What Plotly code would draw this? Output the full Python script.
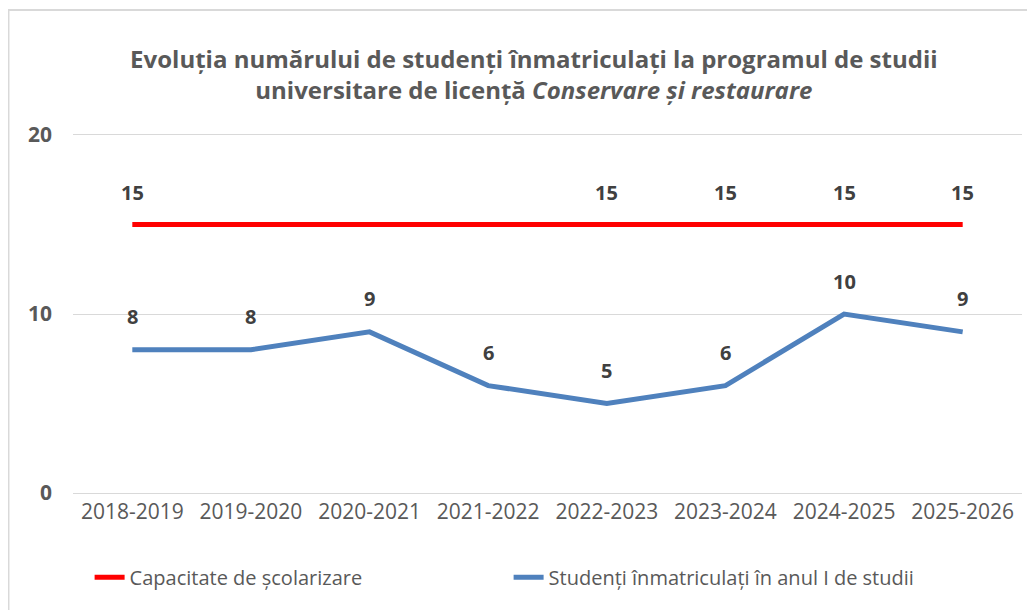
import plotly.graph_objects as go

years = ["2018-2019", "2019-2020", "2020-2021", "2021-2022",
         "2022-2023", "2023-2024", "2024-2025", "2025-2026"]
capacity = [15, 15, 15, 15, 15, 15, 15, 15]
enrolled = [8, 8, 9, 6, 5, 6, 10, 9]
# capacity labels shown only for some years (as in the original)
capacityLabelShown = [True, False, False, False, True, True, True, True]

font = "Open Sans"
grey = "#595959"
dark = "#404040"

fig = go.Figure()
fig.add_trace(go.Scatter(
    x=years, y=capacity, mode="lines",
    name="Capacitate de școlarizare",
    line=dict(color="#FF0000", width=5)
))
fig.add_trace(go.Scatter(
    x=years, y=enrolled, mode="lines",
    name="Studenți înmatriculați în anul I de studii",
    line=dict(color="#4F81BD", width=5)
))

# data labels
for yr, val, show in zip(years, capacity, capacityLabelShown):
    if show:
        fig.add_annotation(x=yr, y=val, text="<b>%d</b>" % val, showarrow=False,
                           yshift=32, font=dict(family=font, size=20, color=dark))
for yr, val in zip(years, enrolled):
    fig.add_annotation(x=yr, y=val, text="<b>%d</b>" % val, showarrow=False,
                       yshift=33, font=dict(family=font, size=20, color=dark))

# chart border
fig.add_shape(type="rect", xref="paper", yref="paper",
              x0=-0.068, x1=1.05, y0=-0.5, y1=1.349,
              line=dict(color="#d9d9d9", width=2), layer="below")

fig.update_layout(
    width=1027, height=602,
    margin=dict(l=65, r=13, t=127, b=117),
    paper_bgcolor="white", plot_bgcolor="white",
    title=dict(
        text="<b>Evoluția numărului de studenți înmatriculați la programul de studii<br>"
             "universitare de licență <i>Conservare și restaurare</i></b>",
        x=0.512, xanchor="center", y=0.901, yanchor="middle",
        font=dict(family=font, size=24, color=grey)
    ),
    xaxis=dict(
        range=[-0.5, 7.5], showgrid=False, ticks="",
        showline=True, mirror=True, linecolor="#d9d9d9", linewidth=1,
        tickfont=dict(family=font, size=21, color=grey),
    ),
    yaxis=dict(
        range=[0, 20], tickvals=[0, 10, 20], showgrid=True,
        gridcolor="#d9d9d9", gridwidth=1, zeroline=False, showline=False,
        tickfont=dict(family=font, size=21, color=grey, weight="bold"),
        ticklabelstandoff=20,
    ),
    legend=dict(
        orientation="h", x=0.0175, xanchor="left", y=-0.235, yanchor="middle",
        font=dict(family=font, size=20, color=grey), traceorder="normal",
        entrywidth=374
    ),
    showlegend=True,
)

fig.write_html("out.html")
